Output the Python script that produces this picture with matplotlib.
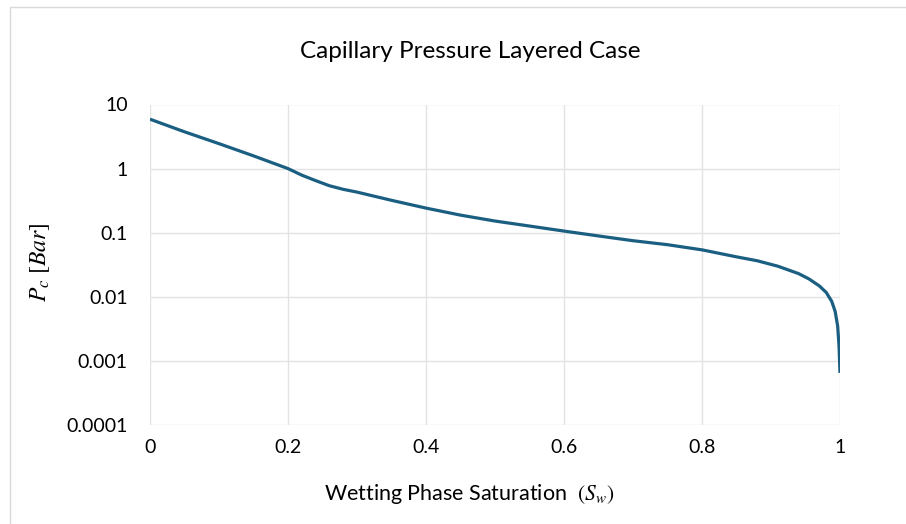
import matplotlib
matplotlib.use("Agg")
import matplotlib.pyplot as plt
from matplotlib.patches import Rectangle

sw = [0.0, 0.05, 0.1, 0.15, 0.2, 0.22, 0.24, 0.26, 0.28, 0.3, 0.35, 0.4, 0.45, 0.5,
      0.55, 0.6, 0.65, 0.7, 0.75, 0.8, 0.85, 0.88, 0.91, 0.94, 0.955, 0.97, 0.98,
      0.988, 0.993, 0.9966, 0.9986, 1.0]
pc = [5.9, 3.75, 2.45, 1.58, 1.0, 0.79, 0.65, 0.54, 0.475, 0.43, 0.32, 0.242, 0.188, 0.152,
      0.127, 0.106, 0.089, 0.075, 0.065, 0.054, 0.042, 0.0365, 0.030, 0.023, 0.019, 0.0148, 0.0117,
      0.0085, 0.0059, 0.0035, 0.0017, 0.00065]

x_ticks = [0, 0.2, 0.4, 0.6, 0.8, 1]
x_labels = ["0", "0.2", "0.4", "0.6", "0.8", "1"]
y_ticks = [0.0001, 0.001, 0.01, 0.1, 1, 10]
y_labels = ["0.0001", "0.001", "0.01", "0.1", "1", "10"]

plt.rcParams['font.family'] = ['Lato', 'DejaVu Sans']
plt.rcParams['mathtext.fontset'] = 'stix'

fig = plt.figure(figsize=(9.06, 5.24), dpi=100)
fig.patches.append(Rectangle((9.5/906, -0.1), 1.2, (1 - 7/524) + 0.1,
                             transform=fig.transFigure, fill=False,
                             edgecolor='#D9D9D9', linewidth=1.0))
ax = fig.add_axes([150/906, 1 - 425/524, 690/906, (425 - 104.5)/524])
ax.plot(sw, pc, color='#1A5F82', linewidth=2.3, solid_capstyle='butt',
        solid_joinstyle='round', zorder=3)
ax.set_yscale('log')
ax.set_xlim(0, 1)
ax.set_ylim(0.0001, 10)
ax.set_xticks(x_ticks)
ax.set_xticklabels(x_labels)
ax.set_yticks(y_ticks)
ax.set_yticklabels(y_labels)
ax.minorticks_off()
ax.tick_params(axis='both', length=0, labelsize=14, colors='black', pad=10)
ax.tick_params(axis='y', pad=16)
ax.grid(True, color='#E3E3E3', linewidth=1.0)
for s in ax.spines.values():
    s.set_visible(False)

fig.text(470/906, 1 - 52/524, "Capillary Pressure Layered Case", ha='center', va='center', fontsize=17.5)
fig.text(469/906, 1 - 494/524, "Wetting Phase Saturation  $(S_w)$", ha='center', va='center', fontsize=15.5)
fig.text(40/906, 0.5, "$P_c\\ [Bar]$", ha='center', va='center', rotation=90, fontsize=17)

fig.savefig("out.png", dpi=100)
